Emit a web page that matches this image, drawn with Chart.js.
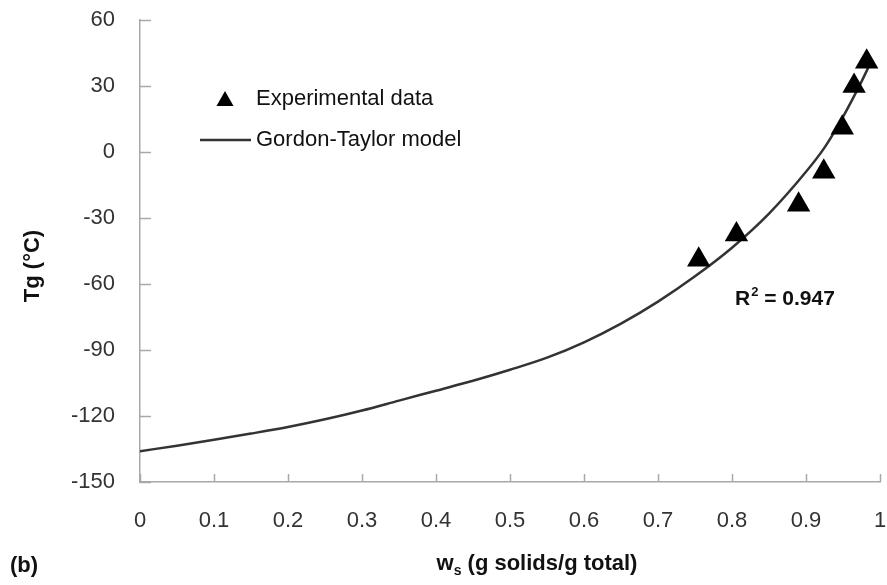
<!DOCTYPE html>
<html>
<head>
<meta charset="utf-8">
<script src="https://cdn.jsdelivr.net/npm/chart.js@4"></script>
<style>
  body { margin: 0; background: #fff; }
  canvas { display: block; }
</style>
</head>
<body>
<canvas id="tgChart" width="887" height="585"></canvas>
<script>
// dados
const expWs = [0.755, 0.806, 0.890, 0.924, 0.949, 0.965, 0.982];
const expTg = [-49, -37.5, -24, -9, 11, 30, 41];

const modelWs = [0, 0.05, 0.1, 0.15, 0.2, 0.25, 0.3, 0.35, 0.4, 0.45, 0.5, 0.55, 0.6, 0.65, 0.7, 0.75, 0.8, 0.85, 0.9, 0.925, 0.95, 0.975, 0.985];
const modelTg = [-136, -133.5, -130.8, -128, -125, -121.5, -117.5, -113, -108.5, -104, -99, -93.5, -86.5, -78, -68, -56.5, -43.5, -28, -9, 2, 16, 32, 39];

const xTickLabels = ['0', '0.1', '0.2', '0.3', '0.4', '0.5', '0.6', '0.7', '0.8', '0.9', '1'];
const yTickLabels = ['-150', '-120', '-90', '-60', '-30', '0', '30', '60'];

const legendLabels = ['Experimental data', 'Gordon-Taylor model'];
const r2Text = '0.947';

const FONT = '"Liberation Sans", Arial, sans-serif';
const AXIS_GRAY = '#a8a8a8';

// ticks para dentro + textos extras
const extrasPlugin = {
  id: 'extras',
  afterDraw(chart) {
    const c = chart.ctx;
    const xs = chart.scales.x;
    const ys = chart.scales.y;
    const area = chart.chartArea;

    c.save();
    c.strokeStyle = AXIS_GRAY;
    c.lineWidth = 1.5;
    xs.ticks.forEach(t => {
      const px = Math.round(xs.getPixelForValue(t.value)) + 0.5;
      c.beginPath();
      c.moveTo(px, area.bottom);
      c.lineTo(px, area.bottom - 8);
      c.stroke();
    });
    ys.ticks.forEach(t => {
      const py = Math.round(ys.getPixelForValue(t.value)) + 0.5;
      c.beginPath();
      c.moveTo(area.left, py);
      c.lineTo(area.left + 11, py);
      c.stroke();
    });

    // legenda
    c.fillStyle = '#000';
    c.beginPath();
    c.moveTo(225, 91);
    c.lineTo(233.5, 106);
    c.lineTo(216.5, 106);
    c.closePath();
    c.fill();
    c.strokeStyle = '#333';
    c.lineWidth = 2.5;
    c.beginPath();
    c.moveTo(200, 140);
    c.lineTo(251, 140);
    c.stroke();
    c.fillStyle = '#111';
    c.font = '22px ' + FONT;
    c.textAlign = 'left';
    c.textBaseline = 'middle';
    c.fillText(legendLabels[0], 256, 99);
    c.fillText(legendLabels[1], 256, 140);

    // R²
    c.font = 'bold 21px ' + FONT;
    let x = 735;
    c.fillText('R', x, 299);
    x += c.measureText('R').width + 1;
    c.font = 'bold 13px ' + FONT;
    c.fillText('2', x, 292);
    x += c.measureText('2').width;
    c.font = 'bold 21px ' + FONT;
    c.fillText(' = ' + r2Text, x, 299);

    // título eixo y
    c.save();
    c.translate(33, 266);
    c.rotate(-Math.PI / 2);
    c.textAlign = 'center';
    c.font = 'bold 22px ' + FONT;
    c.fillText('Tg (°C)', 0, 0);
    c.restore();

    // título eixo x com subscrito
    const partW = 'w', partS = 's', partRest = ' (g solids/g total)';
    c.font = 'bold 22px ' + FONT;
    const wW = c.measureText(partW).width;
    const wRest = c.measureText(partRest).width;
    c.font = 'bold 14px ' + FONT;
    const wS = c.measureText(partS).width;
    let tx = 537 - (wW + wS + wRest) / 2;
    c.textAlign = 'left';
    c.font = 'bold 22px ' + FONT;
    c.fillText(partW, tx, 564);
    tx += wW;
    c.font = 'bold 14px ' + FONT;
    c.fillText(partS, tx, 571);
    tx += wS;
    c.font = 'bold 22px ' + FONT;
    c.fillText(partRest, tx, 564);

    // (b)
    c.fillText('(b)', 10, 566);
    c.restore();
  }
};

const ctx = document.getElementById('tgChart').getContext('2d');
const tgChart = new Chart(ctx, {
  type: 'scatter',
  data: {
    datasets: [
      {
        label: legendLabels[1],
        data: modelWs.map((w, i) => ({ x: w, y: modelTg[i] })),
        showLine: true,
        borderColor: '#333',
        borderWidth: 2.5,
        pointRadius: 0,
        tension: 0.4,
        cubicInterpolationMode: 'monotone',
        order: 2
      },
      {
        label: legendLabels[0],
        data: expWs.map((w, i) => ({ x: w, y: expTg[i] })),
        pointStyle: 'triangle',
        pointRadius: 13.5,
        backgroundColor: '#000',
        borderColor: '#000',
        borderWidth: 0,
        order: 1
      }
    ]
  },
  options: {
    responsive: false,
    animation: false,
    layout: { autoPadding: false, padding: { top: 20, right: 7, left: 0, bottom: 0 } },
    plugins: {
      legend: { display: false },
      tooltip: { enabled: false }
    },
    scales: {
      x: {
        type: 'linear',
        min: 0,
        max: 1,
        afterFit(scale) {
          scale.height = 103;
          scale.paddingLeft = 0;
          scale.paddingRight = 0;
        },
        afterBuildTicks(scale) {
          scale.ticks = xTickLabels.map(v => ({ value: parseFloat(v) }));
        },
        grid: { display: false, drawTicks: false },
        border: { display: true, color: AXIS_GRAY, width: 1.5 },
        ticks: {
          padding: 26,
          color: '#333',
          font: { family: FONT, size: 22 },
          maxRotation: 0,
          autoSkip: false,
          callback: (v, i) => xTickLabels[i]
        }
      },
      y: {
        type: 'linear',
        min: -150,
        max: 60,
        afterFit(scale) {
          scale.width = 140;
          scale.paddingTop = 0;
          scale.paddingBottom = 0;
        },
        afterBuildTicks(scale) {
          scale.ticks = yTickLabels.map(v => ({ value: parseFloat(v) }));
        },
        grid: { display: false, drawTicks: false },
        border: { display: true, color: AXIS_GRAY, width: 1.5 },
        ticks: {
          padding: 25,
          color: '#333',
          font: { family: FONT, size: 22 },
          autoSkip: false,
          callback: (v, i) => yTickLabels[i]
        }
      }
    }
  },
  plugins: [extrasPlugin]
});
</script>
</body>
</html>
